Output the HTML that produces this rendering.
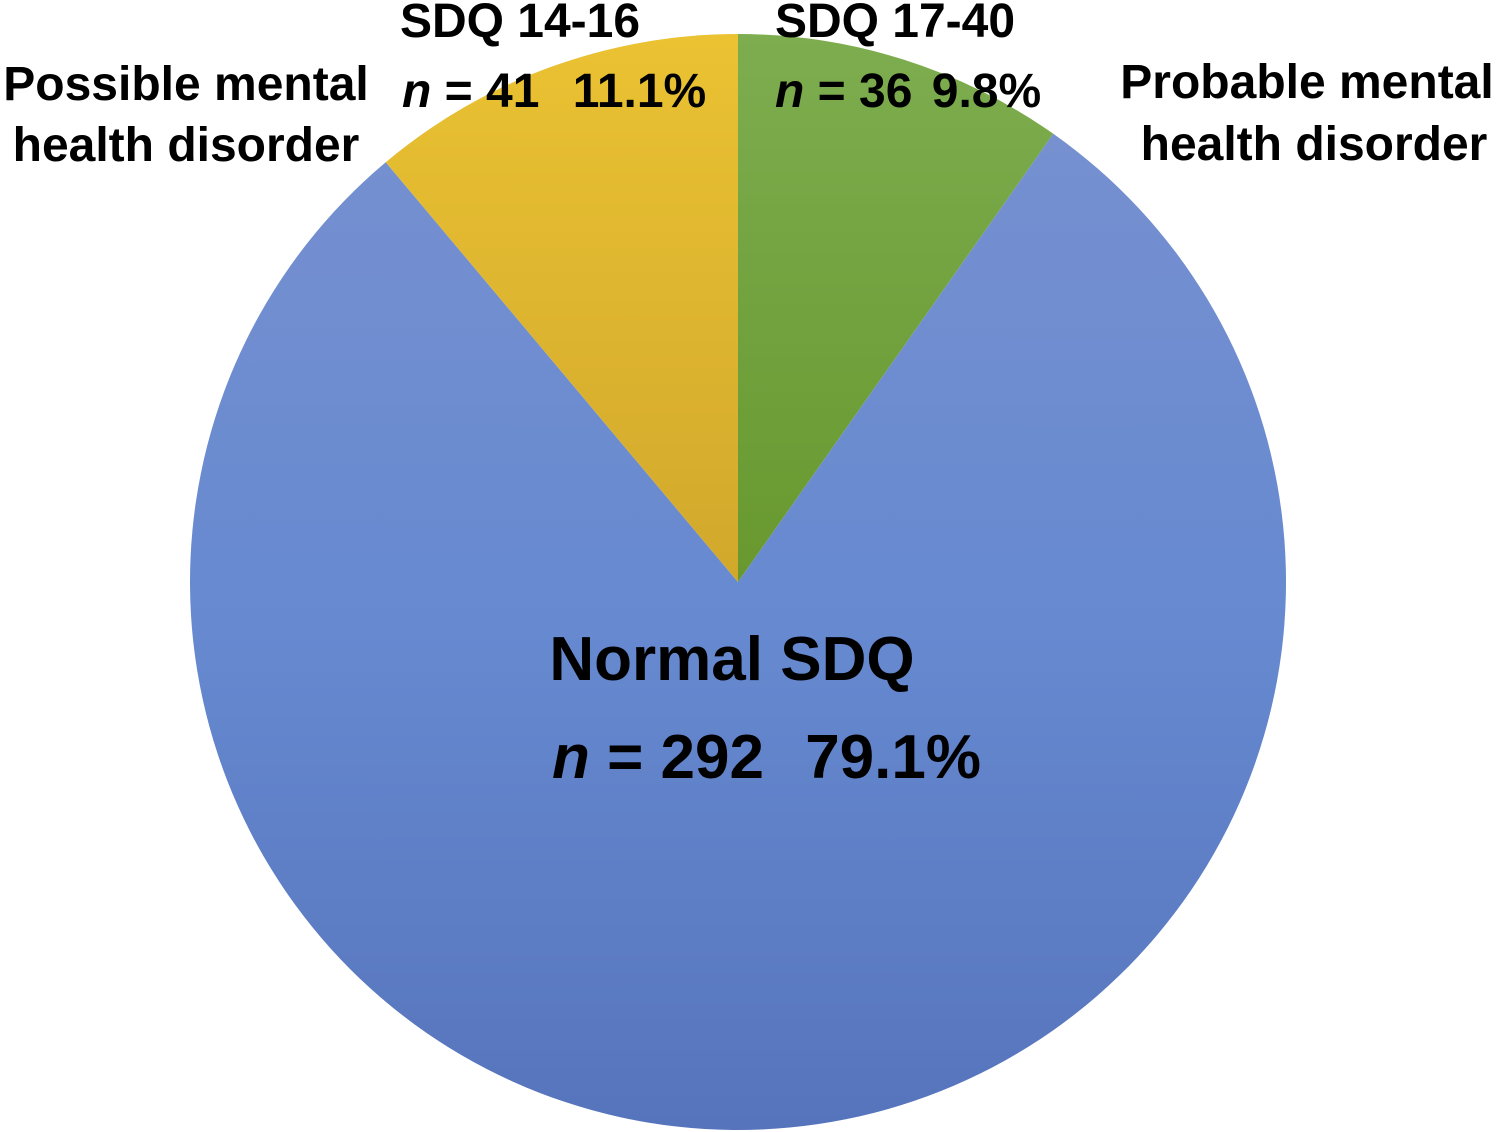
<!DOCTYPE html>
<html><head><meta charset="utf-8"><style>
html,body{margin:0;padding:0;background:#fff;}
svg{display:block;font-family:"Liberation Sans",Arial,sans-serif;font-weight:bold;}
</style></head><body>
<svg width="1500" height="1132" viewBox="0 0 1500 1132">
<defs>
<linearGradient id="gBlue" x1="0" y1="0" x2="0" y2="1"><stop offset="0" stop-color="#7690d0"/><stop offset="0.5" stop-color="#6689d0"/><stop offset="1" stop-color="#5674bc"/></linearGradient>
<linearGradient id="gGreen" x1="0" y1="0" x2="0" y2="1"><stop offset="0" stop-color="#7dad4f"/><stop offset="1" stop-color="#68982e"/></linearGradient>
<linearGradient id="gYellow" x1="0" y1="0" x2="0" y2="1"><stop offset="0" stop-color="#eac232"/><stop offset="1" stop-color="#d2a82c"/></linearGradient>
</defs>
<g id="slices"></g>
<g font-size="48" fill="#000">
<text x="186" y="100" text-anchor="middle">Possible mental</text>
<text x="186" y="161" text-anchor="middle">health disorder</text>
<text x="520" y="37" text-anchor="middle">SDQ 14-16</text>
<text x="402" y="107"><tspan font-style="italic">n</tspan> = 41 <tspan dx="20">11.1%</tspan></text>
</g>
<g font-size="48" fill="#000">
<text x="1307" y="98" text-anchor="middle">Probable mental</text>
<text x="1314" y="160" text-anchor="middle">health disorder</text>
<text x="895" y="37" text-anchor="middle">SDQ 17-40</text>
<text x="775" y="107"><tspan font-style="italic">n</tspan> = 36 <tspan dx="6">9.8%</tspan></text>
</g>
<g font-size="62" fill="#000">
<text x="732" y="680" text-anchor="middle">Normal SDQ</text>
<text x="552" y="778"><tspan font-style="italic">n</tspan> = 292 <tspan dx="24">79.1%</tspan></text>
</g>
</svg>
<script>
const categories = ["Probable mental health disorder","Normal SDQ","Possible mental health disorder"];
const values = [36, 292, 41];
const fills = ["url(#gGreen)","url(#gBlue)","url(#gYellow)"];
const cx = 738, cy = 582, r = 548;
const total = values.reduce((a,b)=>a+b,0);
const g = document.getElementById('slices');
let a0 = 0;
values.forEach((v,i)=>{
  const a1 = a0 + v/total*2*Math.PI;
  const x0 = cx + r*Math.sin(a0), y0 = cy - r*Math.cos(a0);
  const x1 = cx + r*Math.sin(a1), y1 = cy - r*Math.cos(a1);
  const large = (a1-a0) > Math.PI ? 1 : 0;
  const p = document.createElementNS('http://www.w3.org/2000/svg','path');
  p.setAttribute('d', `M${cx},${cy} L${x0},${y0} A${r},${r} 0 ${large} 1 ${x1},${y1} Z`);
  p.setAttribute('fill', fills[i]);
  
  
  g.appendChild(p);
  a0 = a1;
});
</script>
</body></html>
